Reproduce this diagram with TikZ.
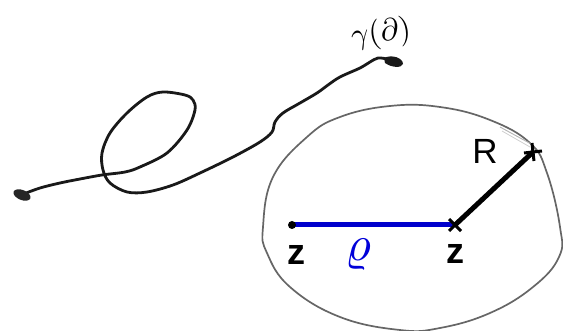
\documentclass[tikz,border=0pt]{standalone}
\usepackage{fontspec}
\setmainfont{Liberation Sans}
\usetikzlibrary{calc}
\begin{document}
\begin{tikzpicture}[x=1pt,y=-1pt,
  curvestyle/.style={line width=2.8pt, line cap=round, line join=round, black!90},
  blobstyle/.style={line width=1.7pt, black!60},
  lbl/.style={inner sep=0pt},
  zlbl/.style={inner sep=0pt, scale=3.6, font=\bfseries},
  gammalbl/.style={inner sep=0pt, rotate=8, scale=3.1}]
\useasboundingbox (0,0) rectangle (563,331);
\fill[white] (0,0) rectangle (563,331);
% region
\draw[blobstyle] plot[smooth cycle, tension=0.7] coordinates {
 (263,227) (273,177) (307,137) (340,117) (390,106) (440,107) (490,120)
 (530,143) (547,173) (560,227) (559,257) (533,287) (490,313) (440,328)
 (400,330) (340,317) (290,287) (267,253)};
\draw[black!30, line width=0.9pt] (500,127) -- (533,145);
\draw[black!20, line width=0.7pt] (502,131) -- (530,147);
% curve
\draw[curvestyle] plot[smooth, tension=0.55] coordinates {
 (21,195) (40,188) (60,183) (80,179) (102,175) (125,172) (140,167) (167,153)
 (187,130) (195,110) (193,100) (185,95) (163,92) (147,97) (127,113) (110,133)
 (102,153) (103,170) (110,183) (127,192) (147,192) (173,185) (200,173)
 (233,157) (260,142) (272,132) (275,122) (283,113) (300,103) (317,93)
 (328,85) (340,77) (360,68) (370,62) (378,58) (387,59)};
\fill[black!85, rotate around={-22:(22,195)}] (22,195) ellipse (9pt and 5pt);
\fill[black!90] (384,58) .. controls (392,54) and (403,58) .. (403,64)
  .. controls (402,68) and (392,68) .. (385,63) -- cycle;
\node[gammalbl] (gl) at (381,34) {$\gamma(\partial)$};
% points
\coordinate (z1) at (292,225);
\coordinate (z2) at (455,225);
\coordinate (r) at (533,152);
\draw[line width=5pt, blue!80!black] (z1) -- (z2);
\fill[black] (z1) circle (4pt);
\draw[line width=5pt, black] (z2) -- (r);
\draw[line width=3pt] ($(z2)+(-6,-6)$) -- ($(z2)+(6,6)$);
\draw[line width=3pt] ($(z2)+(-6,6)$) -- ($(z2)+(6,-6)$);
\draw[line width=3pt] ($(r)+(-9,1)$) -- ($(r)+(9,-1)$);
\draw[line width=3pt] ($(r)+(-1,-9)$) -- ($(r)+(1,9)$);
\node[zlbl] (lz1) at (296,255) {z};
\node[zlbl] (lz2) at (455,254) {z};
\node[lbl, scale=3.5] (lr) at (485,151) {R};
\node[inner sep=0pt, text=blue!85!black, scale=5] (lrho) at (358,255) {$\varrho$};
\end{tikzpicture}
\end{document}
